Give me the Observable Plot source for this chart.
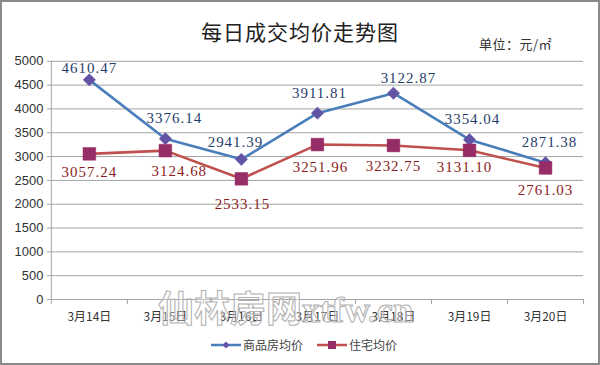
<!DOCTYPE html>
<html>
<head>
<meta charset="utf-8">
<script src="https://cdn.jsdelivr.net/npm/d3@7"></script>
<script src="https://cdn.jsdelivr.net/npm/@observablehq/plot@0.6"></script>
<style>
  html, body { margin: 0; padding: 0; background: #fff; }
  #wrap { position: relative; width: 600px; height: 365px; box-sizing: border-box; border: 2px solid #8a8a8a; overflow: hidden; font-family: "Noto Sans CJK SC", sans-serif; }
  #chart { position: absolute; left: -2px; top: -2px; }
  #title { position: absolute; left: 0; width: 596px; top: 14px; text-align: center; font-size: 21px; color: #222; letter-spacing: 1px; }
  #unit { position: absolute; left: 477px; top: 32px; font-size: 13px; color: #333; letter-spacing: 0.5px; }
  #legend { position: absolute; left: 0; width: 596px; top: 334px; display: flex; justify-content: center; align-items: center; gap: 14px; font-size: 12px; color: #444; padding-left: 8px; box-sizing: border-box; }
  #legend .item { display: flex; align-items: center; gap: 2px; }
  #watermark { position: absolute; left: 156px; top: 278px; font-family: "Liberation Serif", "Noto Sans CJK SC", serif; font-size: 36px; font-weight: bold; color: rgba(255,255,255,0.35); -webkit-text-stroke: 1px #b0b0b0; pointer-events: none; white-space: nowrap; }
  svg g[aria-label="text"] text { letter-spacing: 1px; }
</style>
</head>
<body>
<div id="wrap">
  <div id="chart"></div>
  <div id="title">每日成交均价走势图</div>
  <div id="unit">单位：元/㎡</div>
  <div id="legend"></div>
  <div id="watermark">仙林房网xtfw.cn</div>
</div>
<script>
// ---- data ----
const dates = ["3月14日", "3月15日", "3月16日", "3月17日", "3月18日", "3月19日", "3月20日"];
const seriesNames = ["商品房均价", "住宅均价"];
const commercialValues = [4610.47, 3376.14, 2941.39, 3911.81, 4330, 3354.04, 2871.38];
const commercialLabels = ["4610.47", "3376.14", "2941.39", "3911.81", "3122.87", "3354.04", "2871.38"];
const residentialValues = [3057.24, 3124.68, 2533.15, 3251.96, 3232.75, 3131.10, 2761.03];
const residentialLabels = ["3057.24", "3124.68", "2533.15", "3251.96", "3232.75", "3131.10", "2761.03"];
const yTicks = [0, 500, 1000, 1500, 2000, 2500, 3000, 3500, 4000, 4500, 5000];

// ---- label nudges (style, px) ----
const commercialNudge = [[0, -12], [9, -21], [-6, -17], [2, -20], [15, -15], [3, -21], [4, -21]];
const residentialNudge = [[0, 18], [14, 21], [1, 25], [3, 23], [0, 21], [-5, 17], [0, 22]];

const blueLine = "#4a7ebb", blueMarker = "#6353a5", blueText = "#1f3d6b";
const redLine = "#c0504d", redMarker = "#962d66", redText = "#8a1c22";
const gridColor = "#a3a3a3";

const com = dates.map((d, i) => ({i: i + 0.5, date: d, v: commercialValues[i], label: commercialLabels[i], nudge: commercialNudge[i]}));
const res = dates.map((d, i) => ({i: i + 0.5, date: d, v: residentialValues[i], label: residentialLabels[i], nudge: residentialNudge[i]}));

const labelFont = {fontFamily: "Liberation Serif, DejaVu Serif, serif", fontSize: 15};

const plot = Plot.plot({
  width: 600,
  height: 365,
  marginLeft: 51,
  marginRight: 15,
  marginTop: 61,
  marginBottom: 65,
  style: {background: "transparent", overflow: "visible"},
  x: {type: "linear", domain: [0, dates.length], axis: null, label: null},
  y: {domain: [0, 5000], axis: null, label: null},
  marks: [
    Plot.gridY(yTicks, {stroke: gridColor, strokeOpacity: 1, strokeWidth: 1}),
    Plot.ruleX([0], {stroke: gridColor, strokeWidth: 1}),
    Plot.axisY({ticks: yTicks, label: null, tickSize: 4, tickPadding: 4, stroke: gridColor, fill: "#333", fontSize: 13, fontFamily: "Liberation Sans, Arial, sans-serif", tickFormat: d => String(d)}),
    Plot.axisX({ticks: d3.range(dates.length + 1), label: null, tickSize: 5, tickFormat: () => "", stroke: gridColor}),
    Plot.axisX({ticks: d3.range(dates.length).map(i => i + 0.5), label: null, tickSize: 0, tickPadding: 13, tickFormat: t => dates[Math.round(t - 0.5)], fill: "#333", fontSize: 12, fontFamily: "Noto Sans CJK SC, sans-serif"}),
    Plot.line(com, {x: "i", y: "v", stroke: blueLine, strokeWidth: 2.6}),
    Plot.line(res, {x: "i", y: "v", stroke: redLine, strokeWidth: 2.6}),
    Plot.dot(com, {x: "i", y: "v", symbol: "diamond2", r: 5.6, fill: blueMarker, stroke: blueMarker, strokeWidth: 0.5}),
    Plot.dot(res, {x: "i", y: "v", symbol: "square", r: 7.2, fill: redMarker, stroke: redMarker, strokeWidth: 0.5}),
    ...com.map(d => Plot.text([d], {x: "i", y: "v", text: "label", dx: d.nudge[0], dy: d.nudge[1], fill: blueText, ...labelFont})),
    ...res.map(d => Plot.text([d], {x: "i", y: "v", text: "label", dx: d.nudge[0], dy: d.nudge[1], fill: redText, ...labelFont}))
  ]
});
document.getElementById("chart").appendChild(plot);

// ---- legend ----
const legend = document.getElementById("legend");
const swatches = [
  {name: seriesNames[0], line: blueLine, marker: blueMarker, shape: "diamond"},
  {name: seriesNames[1], line: redLine, marker: redMarker, shape: "square"}
];
for (const s of swatches) {
  const item = document.createElement("div");
  item.className = "item";
  const shape = s.shape === "diamond"
    ? `<path d="M15,3.5 L18.5,7 L15,10.5 L11.5,7 Z" fill="${s.marker}"/>`
    : `<rect x="11" y="3" width="8" height="8" fill="${s.marker}"/>`;
  item.innerHTML = `<svg width="30" height="14"><line x1="0" x2="30" y1="7" y2="7" stroke="${s.line}" stroke-width="2.5"/>${shape}</svg><span>${s.name}</span>`;
  legend.appendChild(item);
}
</script>
</body>
</html>
